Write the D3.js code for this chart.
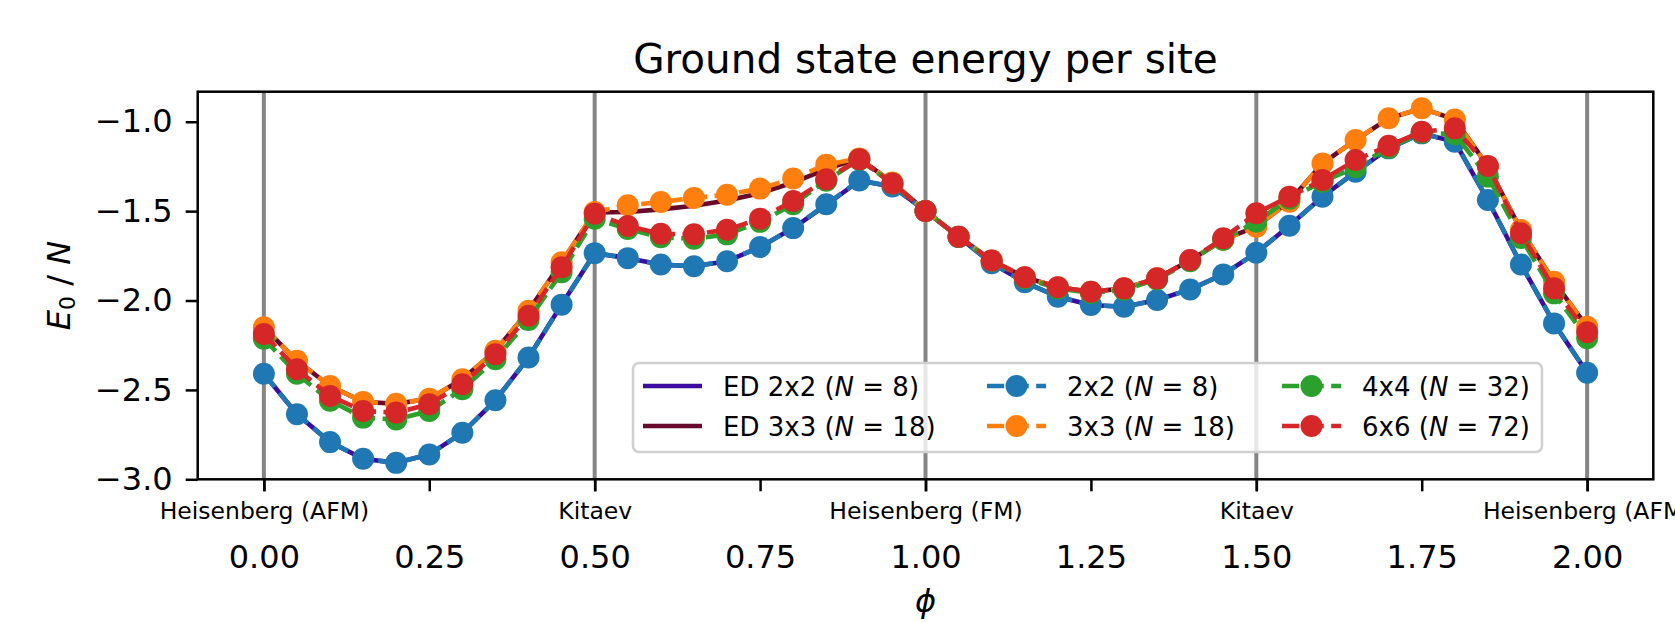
<!DOCTYPE html>
<html>
<head>
<meta charset="utf-8">
<script src="https://cdn.jsdelivr.net/npm/d3@7"></script>
<style>
  body { margin: 0; background: #fff; }
  svg { display: block; font-family: "DejaVu Sans", sans-serif; }
</style>
</head>
<body>
<div id="container"></div>
<script>
// Coupling angle phi (in units of pi)
const PHI = [0.00, 0.05, 0.10, 0.15, 0.20, 0.25, 0.30, 0.35, 0.40, 0.45,
             0.50, 0.55, 0.60, 0.65, 0.70, 0.75, 0.80, 0.85, 0.90, 0.95,
             1.00, 1.05, 1.10, 1.15, 1.20, 1.25, 1.30, 1.35, 1.40, 1.45,
             1.50, 1.55, 1.60, 1.65, 1.70, 1.75, 1.80, 1.85, 1.90, 1.95, 2.00];

// Energies per site
const ED_2x2 = [-2.410, -2.636, -2.792, -2.885, -2.908, -2.861, -2.740, -2.558, -2.319, -2.023,
                -1.735, -1.763, -1.799, -1.808, -1.780, -1.701, -1.595, -1.465, -1.330, -1.362,
                -1.499, -1.645, -1.791, -1.898, -1.979, -2.025, -2.035, -1.997, -1.938, -1.854,
                -1.733, -1.582, -1.419, -1.280, -1.149, -1.065, -1.112, -1.438, -1.798, -2.128, -2.404];

const ED_3x3 = [-2.150, -2.337, -2.478, -2.567, -2.577, -2.549, -2.440, -2.281, -2.057, -1.786,
                -1.508, -1.505, -1.490, -1.470, -1.440, -1.400, -1.340, -1.265, -1.205, -1.340,
                -1.499, -1.643, -1.776, -1.870, -1.926, -1.951, -1.932, -1.876, -1.775, -1.660,
                -1.587, -1.445, -1.233, -1.102, -0.981, -0.925, -0.987, -1.250, -1.606, -1.895, -2.147];

const E_2x2 = [-2.410, -2.636, -2.792, -2.885, -2.908, -2.861, -2.740, -2.558, -2.319, -2.023,
               -1.735, -1.763, -1.799, -1.808, -1.780, -1.701, -1.595, -1.462, -1.328, -1.362,
               -1.499, -1.645, -1.791, -1.898, -1.979, -2.025, -2.035, -1.997, -1.938, -1.854,
               -1.733, -1.582, -1.419, -1.280, -1.149, -1.065, -1.112, -1.438, -1.798, -2.128, -2.404];

const E_3x3 = [-2.150, -2.337, -2.478, -2.567, -2.577, -2.549, -2.440, -2.281, -2.057, -1.786,
               -1.505, -1.467, -1.449, -1.426, -1.408, -1.374, -1.318, -1.240, -1.205, -1.340,
               -1.499, -1.643, -1.776, -1.870, -1.926, -1.951, -1.932, -1.876, -1.775, -1.660,
               -1.587, -1.447, -1.233, -1.102, -0.981, -0.925, -0.987, -1.250, -1.606, -1.895, -2.147];

const E_4x4 = [-2.213, -2.410, -2.560, -2.655, -2.665, -2.618, -2.496, -2.328, -2.109, -1.842,
               -1.542, -1.600, -1.646, -1.655, -1.630, -1.560, -1.462, -1.330, -1.212, -1.347,
               -1.499, -1.644, -1.778, -1.875, -1.932, -1.958, -1.940, -1.882, -1.780, -1.660,
               -1.559, -1.430, -1.335, -1.255, -1.145, -1.062, -1.070, -1.307, -1.650, -1.960, -2.211];

const E_6x6 = [-2.187, -2.384, -2.534, -2.618, -2.627, -2.580, -2.468, -2.300, -2.085, -1.814,
               -1.514, -1.583, -1.627, -1.630, -1.604, -1.542, -1.443, -1.322, -1.210, -1.345,
               -1.499, -1.643, -1.776, -1.870, -1.926, -1.951, -1.932, -1.876, -1.773, -1.652,
               -1.512, -1.419, -1.326, -1.214, -1.134, -1.056, -1.037, -1.248, -1.624, -1.932, -2.178];

// Tick labels
const X_TICKS = [0, 0.25, 0.5, 0.75, 1.0, 1.25, 1.5, 1.75, 2.0];
const Y_TICKS = [-3.0, -2.5, -2.0, -1.5, -1.0];
const POINT_TICKS = [0, 0.5, 1.0, 1.5, 2.0];
const POINT_NAMES = ['Heisenberg (AFM)', 'Kitaev', 'Heisenberg (FM)', 'Kitaev', 'Heisenberg (AFM)'];

// Series definitions
const edSeries = [
    { name: 'ED 2x2', n: 8, values: ED_2x2, color: '#3a0ca0' },
    { name: 'ED 3x3', n: 18, values: ED_3x3, color: '#670a2c' }
];
const dmrgSeries = [
    { name: '2x2', n: 8, values: E_2x2, color: '#1f77b4' },
    { name: '3x3', n: 18, values: E_3x3, color: '#ff7f0e' },
    { name: '4x4', n: 32, values: E_4x4, color: '#2ca02c' },
    { name: '6x6', n: 72, values: E_6x6, color: '#d62728' }
];

// SVG and plot area
const width = 1675;
const height = 622;
const plot = { left: 197.7, right: 1653.3, top: 91.7, bottom: 479.3 };

const svg = d3.select('#container').append('svg')
    .attr('width', width)
    .attr('height', height);

// Scales
const xScale = d3.scaleLinear()
    .domain([-0.1, 2.1])
    .range([plot.left, plot.right]);

const yScale = d3.scaleLinear()
    .domain([-3.0, -0.832])
    .range([plot.bottom, plot.top]);

// Vertical marker lines at special points
svg.append('g')
    .selectAll('line')
    .data(POINT_TICKS)
    .enter()
    .append('line')
    .attr('x1', d => xScale(d))
    .attr('x2', d => xScale(d))
    .attr('y1', plot.top)
    .attr('y2', plot.bottom)
    .attr('stroke', '#858585')
    .attr('stroke-width', 4);

const line = d3.line()
    .x((d, i) => xScale(PHI[i]))
    .y(d => yScale(d));

// ED lines
svg.append('g')
    .selectAll('path')
    .data(edSeries)
    .enter()
    .append('path')
    .attr('d', d => line(d.values))
    .attr('fill', 'none')
    .attr('stroke', d => d.color)
    .attr('stroke-width', 4.6)
    .attr('stroke-linejoin', 'round');

// DMRG series: dashed line then markers, one after the other
dmrgSeries.forEach(s => {
    const g = svg.append('g');
    g.append('path')
        .attr('d', line(s.values))
        .attr('fill', 'none')
        .attr('stroke', s.color)
        .attr('stroke-width', 4.6)
        .attr('stroke-dasharray', '17.2,7.4');
    g.selectAll('circle')
        .data(s.values)
        .enter()
        .append('circle')
        .attr('cx', (d, i) => xScale(PHI[i]))
        .attr('cy', d => yScale(d))
        .attr('r', 11)
        .attr('fill', s.color);
});

// Frame
svg.append('rect')
    .attr('x', plot.left)
    .attr('y', plot.top)
    .attr('width', plot.right - plot.left)
    .attr('height', plot.bottom - plot.top)
    .attr('fill', 'none')
    .attr('stroke', '#000')
    .attr('stroke-width', 2.5);

// Y-Axis
const yAxis = svg.append('g')
    .attr('transform', 'translate(' + plot.left + ',0)')
    .call(d3.axisLeft(yScale).tickValues(Y_TICKS).tickFormat(d3.format('.1f')).tickSize(12).tickPadding(13));
yAxis.select('.domain').remove();
yAxis.selectAll('line').attr('stroke-width', 2.5);
yAxis.selectAll('text').attr('font-size', 32).attr('font-family', 'DejaVu Sans').attr('fill', '#000');

// X-Axis, numeric ticks
const xAxis = svg.append('g')
    .attr('transform', 'translate(0,' + plot.bottom + ')')
    .call(d3.axisBottom(xScale).tickValues(X_TICKS).tickFormat(d3.format('.2f')).tickSize(12));
xAxis.select('.domain').remove();
xAxis.selectAll('line').attr('stroke-width', 2.5);
xAxis.selectAll('text')
    .attr('y', 88.7)
    .attr('dy', 0)
    .attr('font-size', 32)
    .attr('font-family', 'DejaVu Sans')
    .attr('fill', '#000');

// X-Axis, named points
const xAxisNames = svg.append('g')
    .attr('transform', 'translate(0,' + plot.bottom + ')')
    .call(d3.axisBottom(xScale).tickValues(POINT_TICKS).tickFormat((d, i) => POINT_NAMES[i]).tickSize(12));
xAxisNames.select('.domain').remove();
xAxisNames.selectAll('line').attr('stroke-width', 2.5);
xAxisNames.selectAll('text')
    .attr('y', 39.7)
    .attr('dy', 0)
    .attr('font-size', 23.5)
    .attr('font-family', 'DejaVu Sans')
    .attr('fill', '#000');

// Title
svg.append('text')
    .attr('x', (plot.left + plot.right) / 2)
    .attr('y', 73)
    .attr('text-anchor', 'middle')
    .attr('font-size', 40.5)
    .text('Ground state energy per site');

// X label
svg.append('text')
    .attr('x', (plot.left + plot.right) / 2)
    .attr('y', 612)
    .attr('text-anchor', 'middle')
    .attr('font-size', 32)
    .attr('font-style', 'italic')
    .text('ϕ');

// Y label
const yLabel = svg.append('text')
    .attr('transform', 'translate(70,' + (plot.top + plot.bottom) / 2 + ') rotate(-90)')
    .attr('text-anchor', 'middle')
    .attr('font-size', 32);
yLabel.append('tspan').attr('font-style', 'italic').text('E');
yLabel.append('tspan').attr('font-size', 22).attr('dy', 5).text('0');
yLabel.append('tspan').attr('dy', -5).text(' / ');
yLabel.append('tspan').attr('font-style', 'italic').text('N');

// Legend
const legend = svg.append('g');
legend.append('rect')
    .attr('x', 633)
    .attr('y', 363)
    .attr('width', 909)
    .attr('height', 89)
    .attr('rx', 6)
    .attr('fill', '#fff')
    .attr('fill-opacity', 0.8)
    .attr('stroke', '#d0d0d0')
    .attr('stroke-width', 2.5);

const legendItems = edSeries.map(s => Object.assign({ marker: false }, s))
    .concat(dmrgSeries.map(s => Object.assign({ marker: true }, s)));
const colStart = [643, 987, 1282];
const rowY = [386, 426];

legendItems.forEach((s, k) => {
    const col = Math.floor(k / 2);
    const row = k % 2;
    const x0 = colStart[col];
    const y0 = rowY[row];
    legend.append('line')
        .attr('x1', x0)
        .attr('x2', x0 + 59)
        .attr('y1', y0)
        .attr('y2', y0)
        .attr('stroke', s.color)
        .attr('stroke-width', 4.6)
        .attr('stroke-dasharray', s.marker ? '17.2,7.4' : null);
    if (s.marker) {
        legend.append('circle')
            .attr('cx', x0 + 29.5)
            .attr('cy', y0)
            .attr('r', 11)
            .attr('fill', s.color);
    }
    const t = legend.append('text')
        .attr('x', x0 + 80)
        .attr('y', y0 + 9.5)
        .attr('font-size', 26);
    t.append('tspan').text(s.name + ' (');
    t.append('tspan').attr('font-style', 'italic').text('N');
    t.append('tspan').text(' = ' + s.n + ')');
});
</script>
</body>
</html>
